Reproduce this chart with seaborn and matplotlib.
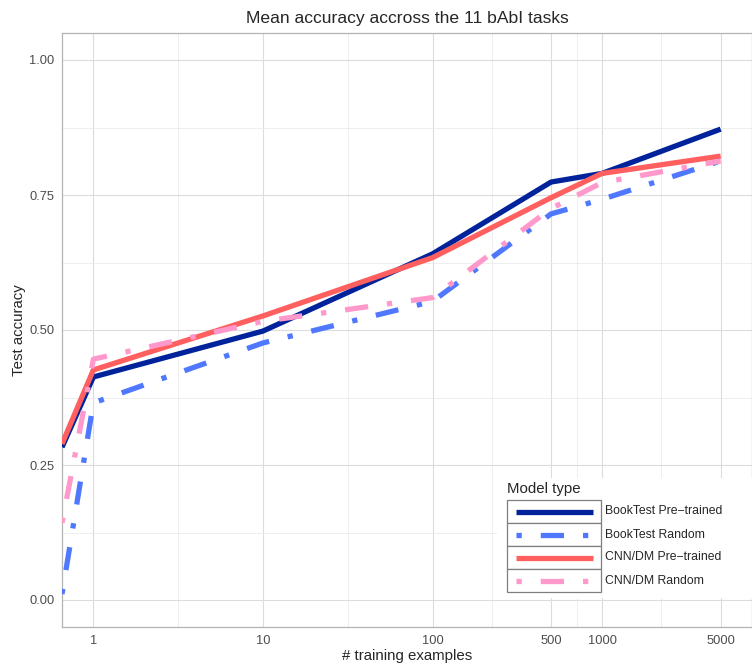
import numpy as np
import pandas as pd
import matplotlib
matplotlib.use("Agg")
import matplotlib.pyplot as plt
import seaborn as sns
from matplotlib.patches import Rectangle
from matplotlib.lines import Line2D

# values (x = 0 is drawn at the left panel edge, like ggplot's -Inf)
n_examples = [0, 1, 10, 100, 500, 1000, 5000]
booktest_pretrained = [0.283, 0.413, 0.498, 0.641, 0.774, 0.790, 0.872]
booktest_random = [0.011, 0.365, 0.476, 0.553, 0.715, 0.742, 0.813]
cnndm_pretrained = [0.289, 0.426, 0.526, 0.634, 0.745, 0.790, 0.822]
cnndm_random = [0.143, 0.446, 0.516, 0.560, 0.725, 0.773, 0.813]

model_types = ["BookTest Pre\u2212trained", "BookTest Random",
               "CNN/DM Pre\u2212trained", "CNN/DM Random"]
series = [booktest_pretrained, booktest_random, cnndm_pretrained, cnndm_random]
colors = ["#00239b", "#4f78ff", "#ff5f5f", "#ff99cc"]
dotdash = (1, 3.6, 4.4, 3.6)
dash_styles = ["", dotdash, "", dotdash]
x_ticks = [1, 10, 100, 500, 1000, 5000]
y_ticks = [0.0, 0.25, 0.5, 0.75, 1.0]

W, H = 752, 664
LW = 3.8

# ggplot-like limits: 5% expansion in log space of the finite x values
lo, hi = np.log10(1), np.log10(max(n_examples))
pad = 0.05 * (hi - lo)
x_left, x_right = 10 ** (lo - pad), 10 ** (hi + pad)

df = pd.DataFrame({
    "x": np.tile(n_examples, len(model_types)).astype(float),
    "acc": np.concatenate(series),
    "model": np.repeat(model_types, len(n_examples)),
})
df.loc[df["x"] <= 0, "x"] = x_left

sns.set_style("white")
plt.rcParams["font.family"] = ["Liberation Sans", "DejaVu Sans"]

fig = plt.figure(figsize=(W / 100, H / 100), dpi=100)
ax = fig.add_axes([62 / W, 37 / H, 690 / W, 594 / H])

sns.lineplot(data=df, x="x", y="acc", hue="model", style="model",
             hue_order=model_types, style_order=model_types,
             palette=dict(zip(model_types, colors)),
             dashes=dict(zip(model_types, dash_styles)),
             linewidth=LW, legend=False, ax=ax, zorder=3)
for ln in ax.get_lines():
    ln.set_solid_capstyle("butt")
    ln.set_solid_joinstyle("round")

ax.set_xscale("log")
ax.set_xlim(x_left, x_right)
ax.set_ylim(-0.05, 1.05)
ax.set_xticks(x_ticks)
ax.set_xticklabels([str(t) for t in x_ticks])
minor_x = [np.sqrt(a * b) for a, b in zip(x_ticks[:-1], x_ticks[1:])]
ax.set_xticks(minor_x, minor=True)
ax.set_yticks(y_ticks)
ax.set_yticklabels([f"{t:.2f}" for t in y_ticks])
ax.set_yticks([0.125, 0.375, 0.625, 0.875], minor=True)

ax.grid(which="major", color="#dcdcdc", linewidth=0.8)
ax.grid(which="minor", color="#ebebeb", linewidth=0.6)
ax.set_axisbelow(True)
for s in ax.spines.values():
    s.set_color("#b3b3b3")
    s.set_linewidth(0.9)
ax.tick_params(which="major", length=3, width=0.8, color="#b3b3b3",
               labelcolor="#4d4d4d", labelsize=9.3, pad=2.5)
ax.tick_params(which="minor", length=0)
ax.tick_params(axis="x", which="minor", labelbottom=False)

ax.set_title("Mean accuracy accross the 11 bAbI tasks", fontsize=12.6, pad=7)
ax.set_xlabel("# training examples", fontsize=10.8, labelpad=2)
ax.set_ylabel("Test accuracy", fontsize=10.8, labelpad=2.5)


# legend drawn in figure pixels, inside the panel at the bottom right
def fx(px):
    return px / W


def fy(py):
    return 1 - py / H


fig.add_artist(Rectangle((fx(497), fy(598)), fx(752) - fx(497), fy(478) - fy(598),
                         transform=fig.transFigure, facecolor="white",
                         edgecolor="none", zorder=5))
fig.text(fx(507), fy(489), "Model type", fontsize=10.8, va="center", ha="left", zorder=6)
row_top, row_h = 500, 23
for i, (name, col, dsh) in enumerate(zip(model_types, colors, dash_styles)):
    t = row_top + i * row_h
    fig.add_artist(Rectangle((fx(507), fy(t + row_h)), fx(601) - fx(507), row_h / H,
                             transform=fig.transFigure, facecolor="white",
                             edgecolor="#7f7f7f", linewidth=0.9, zorder=6))
    key = Line2D([fx(516), fx(593)], [fy(t + row_h / 2)] * 2, transform=fig.transFigure,
                 color=col, linewidth=LW, solid_capstyle="butt", zorder=7)
    if dsh:
        key.set_dashes(dsh)
    fig.add_artist(key)
    fig.text(fx(605), fy(t + row_h / 2), name, fontsize=8.8, va="center", ha="left", zorder=7)

fig.savefig("out.png", dpi=100)
